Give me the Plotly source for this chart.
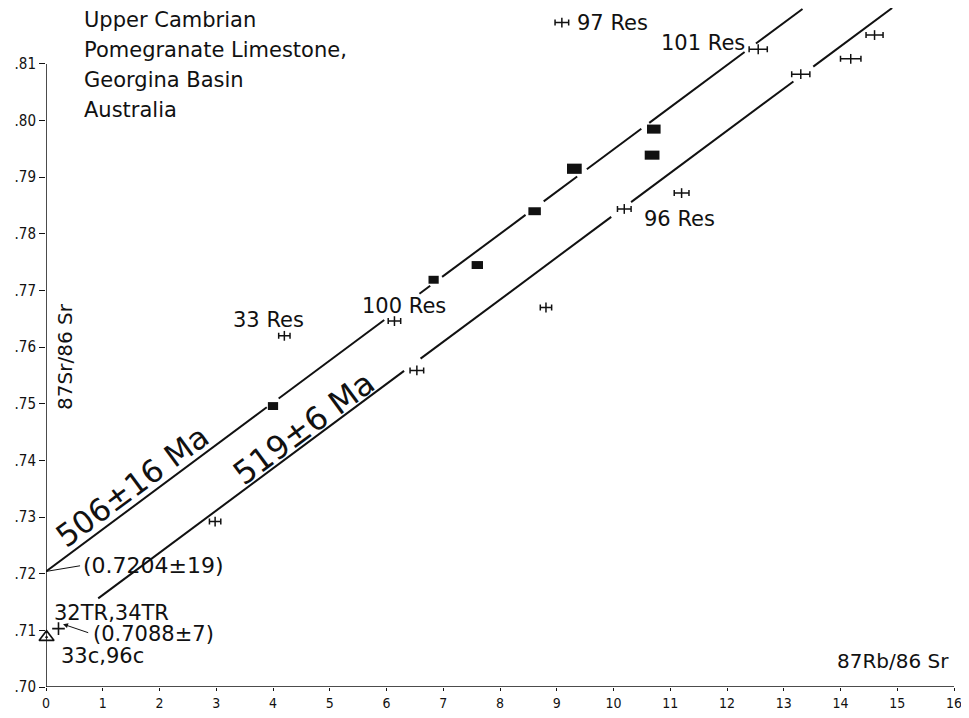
import plotly.graph_objects as go

# ---------------- data ----------------
# isochron lines: intercept (87Sr/86Sr)0 and slope
iso1_int, iso1_slope = 0.7204, 0.00745   # 506 +/- 16 Ma
iso2_int, iso2_slope = 0.7088, 0.00745   # 519 +/- 6 Ma
# drawn (broken) pieces of each line, in 87Rb/86Sr
iso1_segments = [(0.0, 3.89), (4.10, 5.96), (6.58, 6.77), (6.98, 8.45),
                 (8.77, 9.36), (9.53, 10.49), (10.63, 12.31), (12.51, 13.33)]
iso2_segments = [(0.92, 6.31), (6.60, 9.96), (10.31, 13.17), (13.52, 14.91)]

# whole-rock samples drawn as filled error boxes
box_x = [4.00, 6.83, 7.60, 8.61, 9.31, 10.71, 10.68]
box_y = [0.7496, 0.7719, 0.7745, 0.7840, 0.7915, 0.7985, 0.7939]
box_dx = [0.09, 0.09, 0.10, 0.11, 0.13, 0.12, 0.13]
box_dy = [0.0007, 0.0007, 0.0007, 0.0007, 0.0009, 0.0008, 0.0008]

# residue samples drawn with horizontal error bars
res_x = [9.09, 12.55, 14.60, 14.18, 13.30, 11.20, 10.19, 8.81, 6.14, 4.20, 6.535, 2.98]
res_y = [0.8173, 0.8126, 0.8151, 0.8109, 0.8082, 0.7872, 0.7844, 0.7670,
         0.7646, 0.7620, 0.7559, 0.7292]
res_dx = [0.12, 0.16, 0.15, 0.18, 0.16, 0.13, 0.12, 0.10, 0.11, 0.10, 0.12, 0.10]

# TR point and carbonate (c) point
tr_x, tr_y = [0.22], [0.7103]
c_x, c_y = [0.01], [0.7088]

x_ticks = list(range(0, 17))
y_ticks = [0.70, 0.71, 0.72, 0.73, 0.74, 0.75, 0.76, 0.77, 0.78, 0.79, 0.80, 0.81]
y_ticklabels = [".70", ".71", ".72", ".73", ".74", ".75", ".76", ".77", ".78", ".79", ".80", ".81"]

title_lines = ["Upper Cambrian", "Pomegranate Limestone,", "Georgina Basin", "Australia"]

# ---------------- figure ----------------
INK = "#111111"
TXT = "DejaVu Sans, Verdana, sans-serif"
NARROW = "Liberation Sans Narrow, DejaVu Sans Condensed, Arial Narrow, sans-serif"

fig = go.Figure()


def seg_xy(segments, b, m):
    xs, ys = [], []
    for a, c in segments:
        xs += [a, c, None]
        ys += [b + m * a, b + m * c, None]
    return xs, ys


for segs, b, m in [(iso1_segments, iso1_int, iso1_slope), (iso2_segments, iso2_int, iso2_slope)]:
    xs, ys = seg_xy(segs, b, m)
    fig.add_trace(go.Scatter(x=xs, y=ys, mode="lines", line=dict(color=INK, width=2),
                             hoverinfo="skip", showlegend=False, cliponaxis=False))

# residue points with x error bars
fig.add_trace(go.Scatter(
    x=res_x, y=res_y, mode="markers",
    marker=dict(symbol="line-ns", size=7, line=dict(color=INK, width=1.5)),
    error_x=dict(type="data", array=res_dx, visible=True, color=INK, thickness=1.5, width=3),
    showlegend=False, cliponaxis=False))

# TR point
fig.add_trace(go.Scatter(
    x=tr_x, y=tr_y, mode="markers",
    marker=dict(symbol="cross-thin", size=9, line=dict(color=INK, width=1.6)),
    showlegend=False, cliponaxis=False))

# carbonate point
fig.add_trace(go.Scatter(
    x=c_x, y=c_y, mode="markers",
    marker=dict(symbol="triangle-up-open-dot", size=13, color=INK, line=dict(color=INK, width=1.6)),
    showlegend=False, cliponaxis=False))

shapes = []
for x, y, dx, dy in zip(box_x, box_y, box_dx, box_dy):
    shapes.append(dict(type="rect", xref="x", yref="y", x0=x - dx, x1=x + dx,
                       y0=y - dy, y1=y + dy, fillcolor=INK, line=dict(width=0)))
# axis lines ending at the last ticks
shapes.append(dict(type="line", xref="x", yref="y", x0=0, x1=0, y0=0.70, y1=0.81,
                   line=dict(color=INK, width=1.5)))
shapes.append(dict(type="line", xref="x", yref="y", x0=0, x1=16, y0=0.70, y1=0.70,
                   line=dict(color=INK, width=1.5)))
# leader to the 0.7204 intercept
shapes.append(dict(type="line", xref="x", yref="y", x0=0, x1=0.60, y0=0.7204, y1=0.7214,
                   line=dict(color=INK, width=1)))

ann = []


def label(text, x, y, size=21, xanchor="left", angle=0, family=TXT):
    ann.append(dict(text=text, x=x, y=y, xref="x", yref="y", xanchor=xanchor,
                    yanchor="middle", showarrow=False, textangle=angle,
                    font=dict(family=family, size=size, color=INK)))


for i, t in enumerate(title_lines):
    label(t, 0.63, 0.8178 - i * 0.0053, size=21)

label("97 Res", 9.33, 0.8173)
label("101 Res", 10.80, 0.8137)
label("96 Res", 10.50, 0.7826)
label("100 Res", 5.53, 0.7673)
label("33 Res", 3.26, 0.7648)
label("506±16 Ma", 1.52, 0.7355, size=31, xanchor="center", angle=-36.4)
label("519±6 Ma", 4.55, 0.7457, size=32, xanchor="center", angle=-36.4)
label("(0.7204±19)", 0.62, 0.7214, size=22)
label("32TR,34TR", 0.10, 0.7130, size=21)
label("(0.7088±7)", 0.79, 0.7093, size=21)
label("33c,96c", 0.23, 0.7055, size=21)
label("87Rb/86 Sr", 15.95, 0.7046, size=20, xanchor="right")
label("87Sr/86 Sr", 0.33, 0.7584, size=20, xanchor="center", angle=-90)

# arrow for 0.7088 intercept label
ann.append(dict(text="", x=0.30, y=0.7111, ax=0.77, ay=0.7095, xref="x", yref="y",
                axref="x", ayref="y", showarrow=True, arrowhead=2, arrowsize=1,
                arrowwidth=1, arrowcolor=INK))

# the page body adds an 8px margin on every side, so the figure is sized to fit
# inside the window without any overflow
fig.update_layout(
    width=953, height=702,
    margin=dict(l=38, r=7, t=0, b=23),
    paper_bgcolor="white", plot_bgcolor="white",
    shapes=shapes, annotations=ann,
    xaxis=dict(range=[0, 16], tickvals=x_ticks, showgrid=False, zeroline=False,
               showline=False, ticks="outside", ticklen=3, tickwidth=1.2, tickcolor=INK,
               ticklabeloverflow="allow",
               tickfont=dict(family=NARROW, size=14, color=INK), automargin=False),
    yaxis=dict(range=[0.70, 0.81988], tickvals=y_ticks, ticktext=y_ticklabels,
               showgrid=False, zeroline=False, showline=False, ticks="outside",
               ticklen=6, tickwidth=1.2, tickcolor=INK,
               tickfont=dict(family=NARROW, size=15, color=INK), automargin=False),
)

fig.write_html("out.html")
